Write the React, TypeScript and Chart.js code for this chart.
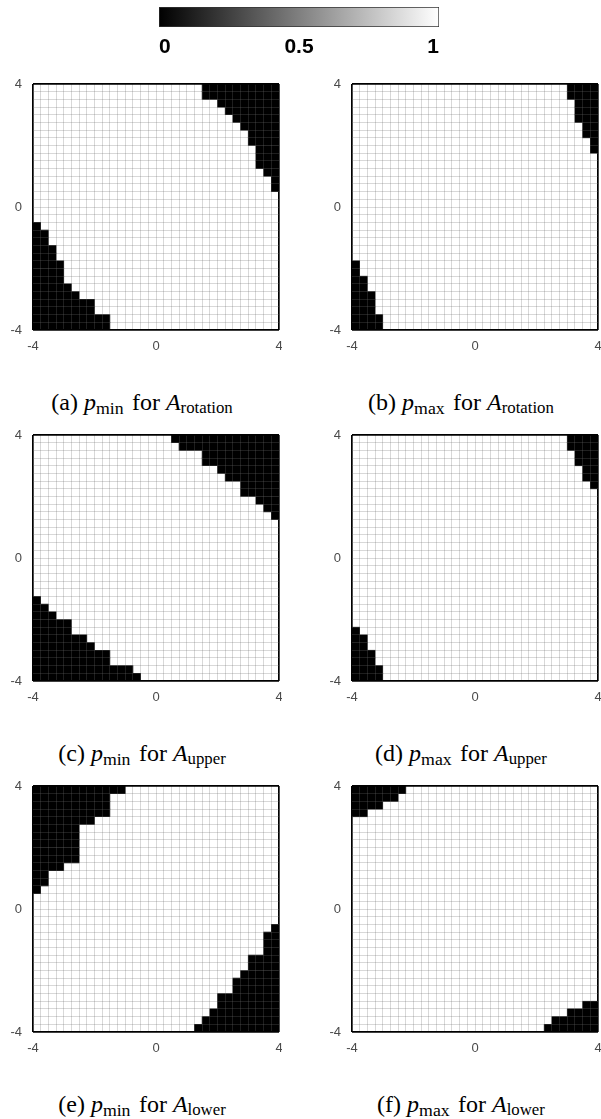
import React, { useEffect, useRef } from 'react';
import { Chart, registerables } from 'chart.js';

Chart.register(...registerables);

// ---------- data ----------
const GRID_N = 32;
const AXIS_MIN = -4;
const AXIS_MAX = 4;
const axisTickLabels = [-4, 0, 4];
const colorbarTicks = [0, 0.5, 1];
const colorbarStops = [0, 1];
const colorbarColors = ['#000000', '#ffffff'];
const blackValue = 0;
const whiteValue = 1;

// Number of black (value 0) cells per row, row 0 = top (y = 4), counted from the left / right edge.
const rotationMinLeft = [0,0,0,0,0,0,0,0,0,0,0,0,0,0,0,0,0,0,1,2,2,3,3,4,4,4,5,6,8,8,10,10];
const rotationMinRight = [10,10,8,7,6,5,4,4,3,3,3,2,1,1,0,0,0,0,0,0,0,0,0,0,0,0,0,0,0,0,0,0];
const rotationMaxLeft = [0,0,0,0,0,0,0,0,0,0,0,0,0,0,0,0,0,0,0,0,0,0,0,1,1,2,2,3,3,3,4,4];
const rotationMaxRight = [4,4,3,3,3,2,2,1,1,0,0,0,0,0,0,0,0,0,0,0,0,0,0,0,0,0,0,0,0,0,0,0];
const upperMinLeft = [0,0,0,0,0,0,0,0,0,0,0,0,0,0,0,0,0,0,0,0,0,1,2,3,5,5,7,8,10,10,13,14];
const upperMinRight = [14,13,10,10,8,7,5,5,3,2,1,0,0,0,0,0,0,0,0,0,0,0,0,0,0,0,0,0,0,0,0,0];
const upperMaxLeft = [0,0,0,0,0,0,0,0,0,0,0,0,0,0,0,0,0,0,0,0,0,0,0,0,0,1,2,2,3,3,4,4];
const upperMaxRight = [4,4,3,3,2,2,1,0,0,0,0,0,0,0,0,0,0,0,0,0,0,0,0,0,0,0,0,0,0,0,0,0];
const lowerMinLeft = [12,10,10,10,8,6,6,6,6,6,4,2,2,1,0,0,0,0,0,0,0,0,0,0,0,0,0,0,0,0,0,0];
const lowerMinRight = [0,0,0,0,0,0,0,0,0,0,0,0,0,0,0,0,0,0,1,2,2,2,4,4,5,6,6,8,8,9,10,11];
const lowerMaxLeft = [7,6,4,2,0,0,0,0,0,0,0,0,0,0,0,0,0,0,0,0,0,0,0,0,0,0,0,0,0,0,0,0];
const lowerMaxRight = [0,0,0,0,0,0,0,0,0,0,0,0,0,0,0,0,0,0,0,0,0,0,0,0,0,0,0,0,2,4,6,7];

const panelLetters = ['a', 'b', 'c', 'd', 'e', 'f'];
const panelStats = ['min', 'max', 'min', 'max', 'min', 'max'];
const panelSets = ['rotation', 'rotation', 'upper', 'upper', 'lower', 'lower'];
const panelLeftCounts = [rotationMinLeft, rotationMaxLeft, upperMinLeft, upperMaxLeft, lowerMinLeft, lowerMaxLeft];
const panelRightCounts = [rotationMinRight, rotationMaxRight, upperMinRight, upperMaxRight, lowerMinRight, lowerMaxRight];

// ---------- layout ----------
const AREA = 246;
const COL_LEFT = [33, 352];
const ROW_TOP = [84, 435, 786];
const CAPTION_CX = [142, 461];
const CAPTION_BASELINE = [410, 761, 1112];
const PAD_TOP = 14;
const Y_AXIS_W = 33;
const X_AXIS_H = 30;
const CANVAS_W = 282;
const CANVAS_H = PAD_TOP + AREA + X_AXIS_H;

const TICK_FONT = { family: '"Liberation Sans", Arial, Helvetica, sans-serif', size: 13 };
const SERIF = '"Liberation Serif", "Times New Roman", Times, serif';

function valueToColor(v: number): string {
  const hex = (h: string) => [1, 3, 5].map((k) => parseInt(h.slice(k, k + 2), 16));
  const a = hex(colorbarColors[0]);
  const b = hex(colorbarColors[colorbarColors.length - 1]);
  const t = (v - colorbarStops[0]) / (colorbarStops[colorbarStops.length - 1] - colorbarStops[0]);
  const c = a.map((x, i) => Math.round(x + (b[i] - x) * t));
  return `rgb(${c[0]},${c[1]},${c[2]})`;
}

const areaBackground = {
  id: 'areaBackground',
  beforeDraw(chart: any) {
    const { ctx, chartArea } = chart;
    if (!chartArea) return;
    ctx.save();
    ctx.fillStyle = valueToColor(whiteValue);
    ctx.fillRect(chartArea.left, chartArea.top, chartArea.right - chartArea.left, chartArea.bottom - chartArea.top);
    ctx.restore();
  },
};

function isEdge(ctx: any) {
  const v = ctx.tick ? ctx.tick.value : null;
  return v === AXIS_MIN || v === AXIS_MAX;
}

function gridOpts() {
  return {
    z: 1,
    offset: false,
    drawTicks: false,
    color: (ctx: any) => (isEdge(ctx) ? '#000000' : 'rgba(110,110,110,0.27)'),
    lineWidth: (ctx: any) => (isEdge(ctx) ? 1.7 : 1),
  };
}

function tickOpts(padding: number) {
  return {
    stepSize: (AXIS_MAX - AXIS_MIN) / GRID_N,
    autoSkip: false,
    maxRotation: 0,
    minRotation: 0,
    padding,
    color: '#4a4a4a',
    font: TICK_FONT,
    callback: (v: any) => (axisTickLabels.includes(Number(v)) ? String(v) : ''),
  };
}

function Panel({ index }: { index: number }) {
  const ref = useRef<HTMLCanvasElement>(null);
  const col = index % 2;
  const row = Math.floor(index / 2);
  useEffect(() => {
    if (!ref.current) return;
    const cell = (AXIS_MAX - AXIS_MIN) / GRID_N;
    const rowY = (i: number) => AXIS_MAX - cell * (i + 0.5);
    const leftCounts = panelLeftCounts[index];
    const rightCounts = panelRightCounts[index];
    const leftData = leftCounts
      .map((n, i) => ({ y: rowY(i), x: [AXIS_MIN, AXIS_MIN + n * cell], n }))
      .filter((d) => d.n > 0);
    const rightData = rightCounts
      .map((n, i) => ({ y: rowY(i), x: [AXIS_MAX - n * cell, AXIS_MAX], n }))
      .filter((d) => d.n > 0);
    const ds = (data: any[]) => ({
      data,
      backgroundColor: valueToColor(blackValue),
      borderWidth: 0,
      grouped: false,
      barPercentage: 1,
      categoryPercentage: 1,
    });
    const chart = new Chart(ref.current, {
      type: 'bar',
      data: { datasets: [ds(leftData), ds(rightData)] as any },
      options: {
        responsive: false,
        animation: false,
        indexAxis: 'y',
        events: [],
        layout: { padding: { left: 0, top: PAD_TOP, right: 3, bottom: 0 } },
        plugins: { legend: { display: false }, tooltip: { enabled: false }, title: { display: false } },
        scales: {
          x: {
            type: 'linear',
            min: AXIS_MIN,
            max: AXIS_MAX,
            offset: false,
            grid: gridOpts(),
            border: { display: false },
            ticks: tickOpts(9),
            afterFit: (s: any) => {
              s.height = X_AXIS_H;
              s.paddingLeft = 0;
              s.paddingRight = 0;
            },
          },
          y: {
            type: 'linear',
            min: AXIS_MIN,
            max: AXIS_MAX,
            offset: false,
            grid: gridOpts(),
            border: { display: false },
            ticks: tickOpts(11),
            afterFit: (s: any) => {
              s.width = Y_AXIS_W;
              s.paddingTop = 0;
              s.paddingBottom = 0;
            },
          },
        },
      } as any,
      plugins: [areaBackground],
    });
    return () => chart.destroy();
  }, [index]);
  return (
    <canvas
      ref={ref}
      width={CANVAS_W}
      height={CANVAS_H}
      style={{
        position: 'absolute',
        left: COL_LEFT[col] - Y_AXIS_W,
        top: ROW_TOP[row] - PAD_TOP,
        width: CANVAS_W,
        height: CANVAS_H,
      }}
    />
  );
}

function Colorbar() {
  const ref = useRef<HTMLCanvasElement>(null);
  useEffect(() => {
    if (!ref.current) return;
    const chart = new Chart(ref.current, {
      type: 'bar',
      data: {
        labels: [''],
        datasets: [
          {
            data: [[colorbarStops[0], colorbarStops[colorbarStops.length - 1]]],
            backgroundColor: (ctx: any) => {
              const { chart: ch } = ctx;
              const area = ch.chartArea;
              if (!area) return valueToColor(0.5);
              const g = ch.ctx.createLinearGradient(area.left, 0, area.right, 0);
              colorbarStops.forEach((s, i) => g.addColorStop(s, colorbarColors[i]));
              return g;
            },
            borderColor: '#333333',
            borderWidth: 1,
            borderSkipped: false,
            barPercentage: 1,
            categoryPercentage: 1,
          },
        ] as any,
      },
      options: {
        responsive: false,
        animation: false,
        indexAxis: 'y',
        events: [],
        layout: { padding: { left: 9, top: 7, right: 11, bottom: 0 } },
        plugins: { legend: { display: false }, tooltip: { enabled: false } },
        scales: {
          x: {
            type: 'linear',
            min: 0,
            max: 1,
            grid: { display: false },
            border: { display: false },
            afterBuildTicks: (s: any) => {
              s.ticks = colorbarTicks.map((v) => ({ value: v }));
            },
            ticks: {
              align: 'inner',
              padding: 0,
              color: '#000000',
              maxRotation: 0,
              autoSkip: false,
              font: { family: '"Liberation Sans", Arial, Helvetica, sans-serif', size: 21, weight: 'bold' },
              callback: (v: any) => String(v),
            },
            afterFit: (s: any) => {
              s.height = 33;
              s.paddingLeft = 0;
              s.paddingRight = 0;
            },
          },
          y: { display: false },
        },
      } as any,
    });
    return () => chart.destroy();
  }, []);
  return (
    <canvas
      ref={ref}
      width={300}
      height={60}
      style={{ position: 'absolute', left: 150, top: 0, width: 300, height: 60 }}
    />
  );
}

function Caption({ index }: { index: number }) {
  const col = index % 2;
  const row = Math.floor(index / 2);
  const size = 24;
  const top = CAPTION_BASELINE[row] - 20;
  const sub: React.CSSProperties = { fontSize: '0.74em', position: 'relative', top: '0.2em', fontStyle: 'normal' };
  return (
    <div
      style={{
        position: 'absolute',
        left: CAPTION_CX[col],
        top,
        transform: 'translateX(-50%)',
        whiteSpace: 'nowrap',
        fontFamily: SERIF,
        fontSize: size,
        lineHeight: `${size}px`,
        color: '#000',
      }}
    >
      ({panelLetters[index]}){' '}
      <span style={{ fontStyle: 'italic' }}>p</span>
      <span style={sub}>{panelStats[index]}</span>
      <span style={{ marginLeft: '0.35em' }}>for </span>
      <span style={{ fontStyle: 'italic' }}>A</span>
      <span style={{ ...sub, fontSize: '0.7em' }}>{panelSets[index]}</span>
    </div>
  );
}

export default function App() {
  return (
    <div
      style={{
        position: 'absolute',
        left: 0,
        top: 0,
        width: 601,
        height: 1119,
        background: '#ffffff',
        overflow: 'hidden',
      }}
    >
      <Colorbar />
      {panelLetters.map((_, i) => (
        <Panel key={`p${i}`} index={i} />
      ))}
      {panelLetters.map((_, i) => (
        <Caption key={`c${i}`} index={i} />
      ))}
    </div>
  );
}
